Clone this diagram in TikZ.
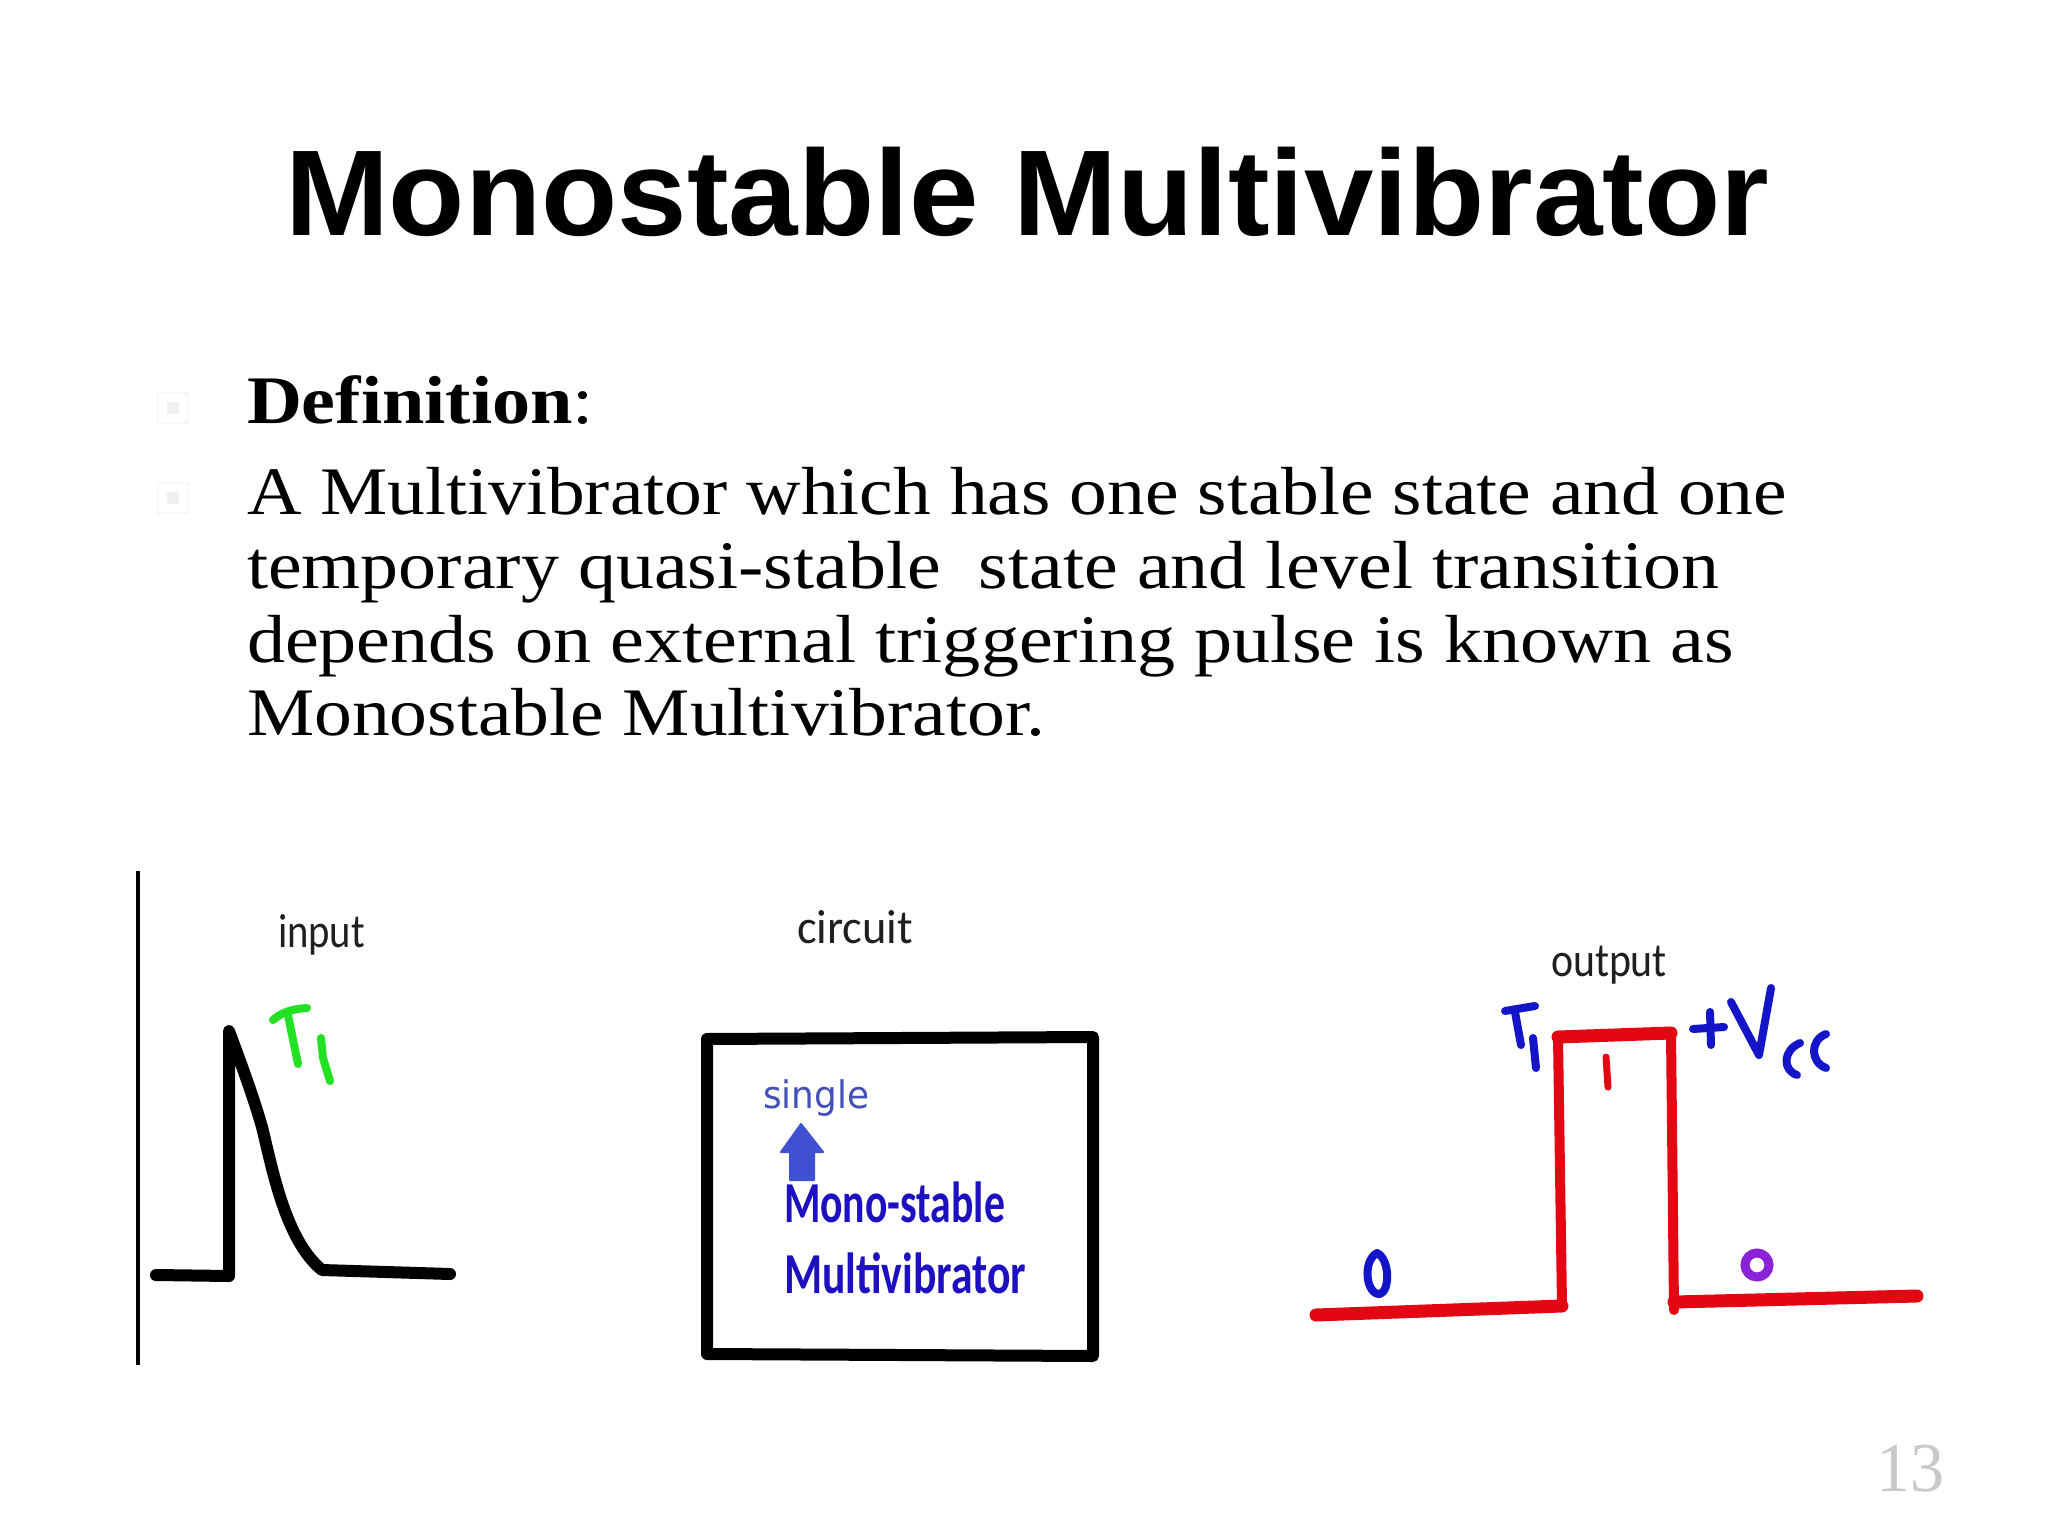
\documentclass[tikz,border=0pt]{standalone}
\usepackage{fontspec}
\usepackage{graphicx}
\setmainfont{Liberation Serif}
\newfontfamily\titlefont{Liberation Sans}
\newfontfamily\handfont{Carlito}
\newfontfamily\plainfont{DejaVu Sans}
\definecolor{penblue}{HTML}{1414C8}
\definecolor{arrowblue}{HTML}{3F51D0}
\definecolor{singleblue}{HTML}{4450B8}
\definecolor{monoblue}{HTML}{1C10C0}
\definecolor{penred}{HTML}{E30613}
\definecolor{pengreen}{HTML}{22E022}
\definecolor{penpurple}{HTML}{8A22D8}
\definecolor{pagegray}{HTML}{C9C9C9}
\newcommand{\fitw}[2]{\resizebox{#1pt}{\height}{#2}}
\tikzset{
  txt/.style={anchor=base west,inner sep=0pt,outer sep=0pt},
  body/.style={txt,font=\fontsize{68}{74}\selectfont},
  hand/.style={txt,font=\handfont\fontsize{48}{50}\selectfont,text=black!88},
  mono/.style={txt,font=\handfont\bfseries\fontsize{58}{60}\selectfont,text=monoblue},
  blackpen/.style={draw=black,line width=12pt,line cap=round,line join=round},
  redpen/.style={draw=penred,line width=10pt,line cap=round,line join=round},
  redflat/.style={draw=penred,line width=13pt,line cap=round,line join=round},
  bluepen/.style={draw=penblue,line width=8pt,line cap=round,line join=round},
  greenpen/.style={draw=pengreen,line width=8pt,line cap=round,line join=round},
  ghost/.style={draw=black!3,line width=1.5pt,fill=white}
}
\begin{document}
\begin{tikzpicture}[x=1pt,y=-1pt]
\useasboundingbox (0,0) rectangle (2048,1536);
\fill[white] (0,0) rectangle (2048,1536);
% title
\node[txt,font=\titlefont\bfseries\fontsize{122}{130}\selectfont] (title) at (285,235) {\fitw{1484}{Monostable Multivibrator}};
% faint bullets
\draw[ghost] (158,393) rectangle (188,423);
\fill[black!6] (167,402) rectangle (179,414);
\draw[ghost] (158,483) rectangle (188,513);
\fill[black!6] (167,492) rectangle (179,504);
% body
\node[body] (def) at (247,423) {\fitw{347}{\textbf{Definition}:}};
\node[body] (l1) at (247,514) {\fitw{1540}{A Multivibrator which has one stable state and one}};
\node[body] (l2) at (247,588) {\fitw{1472}{temporary quasi-stable\ \ state and level transition}};
\node[body] (l3) at (247,662) {\fitw{1487}{depends on external triggering pulse is known as}};
\node[body] (l4) at (247,735) {\fitw{798}{Monostable Multivibrator.}};
% input panel
\draw[black,line width=4pt] (138,871) -- (138,1365);
\node[hand] (input) at (278,947) {\fitw{87}{input}};
\draw[blackpen] (156,1275) -- (229,1276) -- (229,1031)
  .. controls (236,1050) and (252,1092) .. (262,1127)
  .. controls (272,1167) and (285,1240) .. (322,1270)
  -- (450,1274);
\draw[greenpen] (273,1020) .. controls (282,1012) and (292,1009) .. (307,1008);
\draw[greenpen] (288,1015) -- (298,1064);
\draw[greenpen] (321,1038) -- (323,1058) -- (330,1081);
% circuit panel
\node[hand] (circuit) at (797,943) {\fitw{116}{circuit}};
\draw[black,line width=12pt,line join=round] (707,1039) -- (1093,1037) -- (1093,1356) -- (707,1354) -- cycle;
\node[txt,font=\plainfont\fontsize{38}{40}\selectfont,text=singleblue] (single) at (763,1108) {\fitw{106}{single}};
\fill[arrowblue,draw=arrowblue,line width=2pt,line join=round] (801,1124) -- (823,1152) -- (814,1152) -- (814,1180) -- (790,1180) -- (790,1152) -- (781,1152) -- cycle;
\node[mono] (mono1) at (784,1222) {\fitw{221}{Mono-stable}};
\node[mono] (mono2) at (784,1293) {\fitw{242}{Multivibrator}};
% output panel
\node[hand] (output) at (1551,976) {\fitw{116}{output}};
\draw[redpen] (1562,1306) -- (1558,1037);
\draw[redpen] (1671,1033) -- (1674,1310);
\draw[redflat] (1316,1315) -- (1562,1306);
\draw[redflat] (1558,1037) -- (1671,1033);
\draw[redflat] (1674,1302) -- (1917,1296);
\draw[draw=penred,line width=7pt,line cap=round] (1606,1057) -- (1608,1087);
\draw[bluepen] (1505,1011) -- (1535,1006);
\draw[bluepen] (1515,1012) -- (1521,1045);
\draw[bluepen] (1533,1038) -- (1536,1068);
\draw[bluepen] (1693,1029) -- (1724,1027);
\draw[bluepen] (1710,1012) -- (1711,1045);
\draw[bluepen] (1731,1002) -- (1759,1055) -- (1771,988);
\draw[bluepen] (1800,1043) .. controls (1783,1050) and (1782,1070) .. (1797,1075);
\draw[bluepen] (1826,1034) .. controls (1810,1040) and (1810,1062) .. (1826,1068);
\draw[bluepen] (1377,1253) .. controls (1362,1261) and (1366,1295) .. (1380,1294) .. controls (1390,1291) and (1390,1259) .. (1377,1253) -- cycle;
\draw[draw=penpurple,line width=9pt] (1757,1265) circle (12);
% page number
\node[txt,font=\fontsize{70}{72}\selectfont,text=pagegray] (page) at (1876,1491) {\fitw{68}{13}};
\end{tikzpicture}
\end{document}
